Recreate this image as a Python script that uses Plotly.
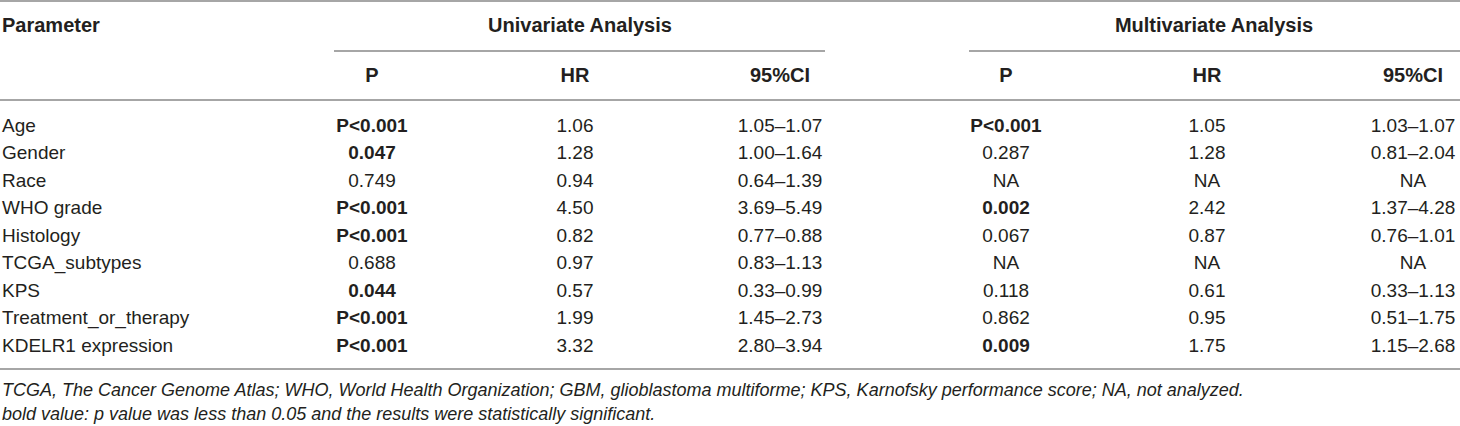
import plotly.graph_objects as go

# ---------------- data ----------------
parameters = ["Age", "Gender", "Race", "WHO grade", "Histology", "TCGA_subtypes",
              "KPS", "Treatment_or_therapy", "KDELR1 expression"]
uni_p = ["P<0.001", "0.047", "0.749", "P<0.001", "P<0.001", "0.688", "0.044", "P<0.001", "P<0.001"]
uni_hr = ["1.06", "1.28", "0.94", "4.50", "0.82", "0.97", "0.57", "1.99", "3.32"]
uni_ci = ["1.05–1.07", "1.00–1.64", "0.64–1.39", "3.69–5.49", "0.77–0.88", "0.83–1.13",
          "0.33–0.99", "1.45–2.73", "2.80–3.94"]
multi_p = ["P<0.001", "0.287", "NA", "0.002", "0.067", "NA", "0.118", "0.862", "0.009"]
multi_hr = ["1.05", "1.28", "NA", "2.42", "0.87", "NA", "0.61", "0.95", "1.75"]
multi_ci = ["1.03–1.07", "0.81–2.04", "NA", "1.37–4.28", "0.76–1.01", "NA",
            "0.33–1.13", "0.51–1.75", "1.15–2.68"]
group_titles = ["Univariate Analysis", "Multivariate Analysis"]
sub_headers = ["P", "HR", "95%CI", "P", "HR", "95%CI"]
first_header = "Parameter"
footnotes = [
    "TCGA, The Cancer Genome Atlas; WHO, World Health Organization; GBM, glioblastoma multiforme; "
    "KPS, Karnofsky performance score; NA, not analyzed.",
    "bold value: p value was less than 0.05 and the results were statistically significant.",
]

# ---------------- layout constants ----------------
W, H = 1460, 426
TEXT = "#231f20"
RULE = "#a6a6a6"
FONT = "Liberation Sans, Arial, sans-serif"
FS = 19
FS_HEAD = 20
FS_FOOT = 18
col_x = [372, 575, 780, 1006, 1207, 1413]
group_x = [580, 1214]
group_span = [(334, 825), (969, 1460)]
param_x = 2
title_y, group_rule_y, sub_y, head_rule_y = 27, 51, 77, 100
row_y0, row_h = 127, 27.5
bottom_rule_y = 369
foot_y = [391, 415]


def is_sig(p):
    if p.startswith("P<"):
        return True
    try:
        return float(p) < 0.05
    except ValueError:
        return False


def fmt_p(p):
    return f"<b>{p}</b>" if is_sig(p) else p


row_ys = [row_y0 + i * row_h for i in range(len(parameters))]
columns = [
    [fmt_p(p) for p in uni_p], uni_hr, uni_ci,
    [fmt_p(p) for p in multi_p], multi_hr, multi_ci,
]

fig = go.Figure()


def text_trace(xs, ys, texts, pos, size):
    fig.add_trace(go.Scatter(
        x=xs, y=ys, text=texts, mode="text", textposition=pos,
        textfont=dict(family=FONT, size=size, color=TEXT),
        hoverinfo="skip", cliponaxis=False, showlegend=False))


# parameter names (left aligned)
text_trace([param_x] * len(parameters), row_ys, parameters, "middle right", FS)

# value columns
for cx, vals in zip(col_x, columns):
    text_trace([cx] * len(vals), row_ys, vals, "middle center", FS)

# headers
text_trace([param_x], [title_y], [f"<b>{first_header}</b>"], "middle right", FS_HEAD)
text_trace(group_x, [title_y] * 2, [f"<b>{t}</b>" for t in group_titles], "middle center", FS_HEAD)
text_trace(col_x, [sub_y] * len(col_x), [f"<b>{t}</b>" for t in sub_headers], "middle center", FS_HEAD)

# footnotes
text_trace([param_x] * len(footnotes), foot_y, [f"<i>{t}</i>" for t in footnotes], "middle right", FS_FOOT)


# rules
def hline(x0, x1, y, w=2):
    fig.add_shape(type="line", x0=x0, x1=x1, y0=y, y1=y, xref="x", yref="y",
                  line=dict(color=RULE, width=w))


hline(0, W, 1)
for (a, b) in group_span:
    hline(a, b, group_rule_y)
hline(0, W, head_rule_y)
hline(0, W, bottom_rule_y)

fig.update_layout(
    width=W, height=H, margin=dict(l=0, r=0, t=0, b=0),
    paper_bgcolor="white", plot_bgcolor="white",
    xaxis=dict(range=[0, W], visible=False, fixedrange=True),
    yaxis=dict(range=[H, 0], visible=False, fixedrange=True),
)

fig.write_html("out.html", config={"displayModeBar": False},
               post_script="document.body.style.margin='0';document.body.style.overflow='hidden';")
